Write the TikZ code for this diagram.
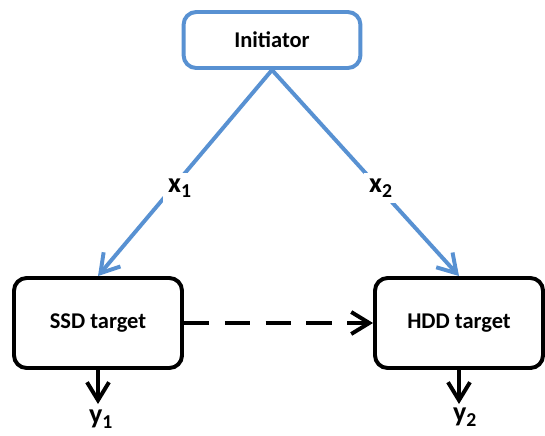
\documentclass[tikz,border=0pt]{standalone}
\usepackage{fontspec}
\setmainfont{Carlito}
\usetikzlibrary{arrows.meta}
\definecolor{initblue}{RGB}{88,145,210}

\begin{document}
\begin{tikzpicture}[x=0.025cm, y=-0.025cm,
    box/.style={draw, line width=2.8pt, rounded corners=9pt, fill=white,
        font=\fontsize{16}{19}\selectfont\bfseries},
    lbl/.style={font=\fontsize{20}{24}\selectfont\bfseries, inner sep=0pt},
    tip/.style={-{Straight Barb[length=4.5mm, width=5.5mm]}, line width=2.8pt}]
    \useasboundingbox (0,0) rectangle (545,435);
    % boxes
    \node[box, draw=initblue, minimum width=4.42cm, minimum height=1.4cm] (init) at (272,40) {Initiator};
    \node[box, minimum width=4.2cm, minimum height=2.25cm] (ssd) at (98,323) {SSD target};
    \node[box, minimum width=4.2cm, minimum height=2.25cm] (hdd) at (459,323) {HDD target};
    \coordinate (y1tip) at (98,404);
    \coordinate (y2tip) at (459,404);
    % arrows
    \draw[tip, initblue] (init.south) -- (ssd.north);
    \draw[tip, initblue] (init.south) -- (hdd.north);
    \draw[tip, dash pattern=on 18pt off 11pt] (ssd.east) -- (hdd.west);
    \draw[tip] (ssd.south) -- (y1tip);
    \draw[tip] (hdd.south) -- (y2tip);
    % labels
    \node[lbl, fill=white, inner sep=4pt] (x1) at (180,188) {x\textsubscript{1}};
    \node[lbl, fill=white, inner sep=4pt] (x2) at (381,188) {x\textsubscript{2}};
    \node[lbl, anchor=north] (y1) at (101,410) {y\textsubscript{1}};
    \node[lbl, anchor=north] (y2) at (465,408) {y\textsubscript{2}};
\end{tikzpicture}
\end{document}
